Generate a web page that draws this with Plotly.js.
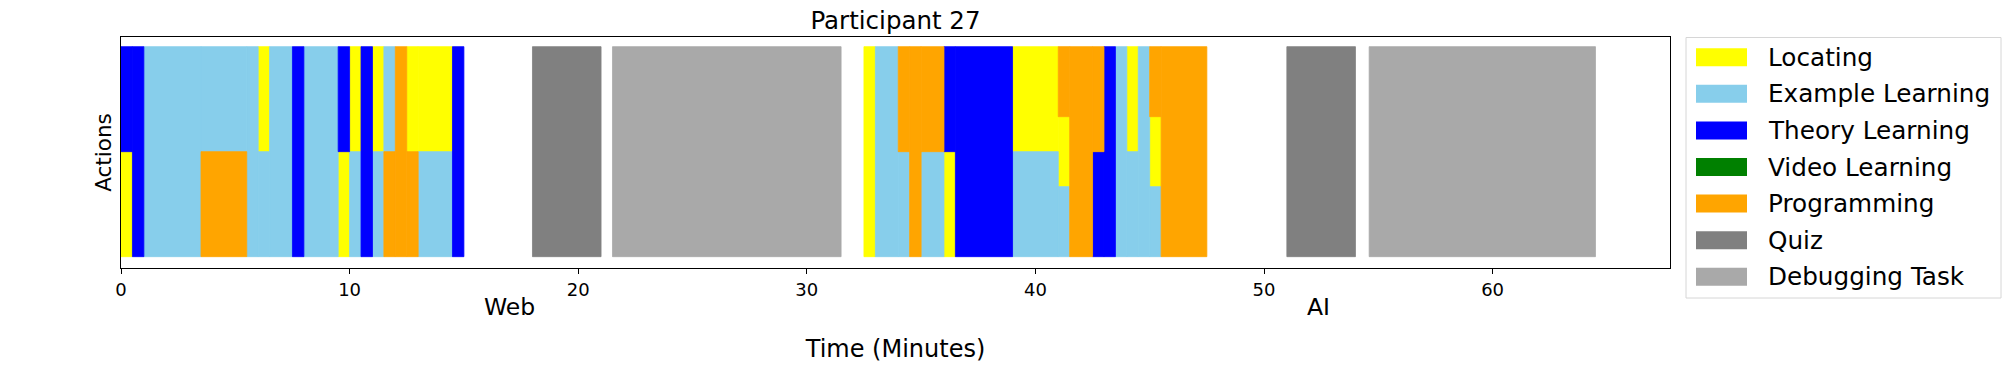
<!DOCTYPE html>
<html>
<head>
  <title>Participant 27</title>
<script src="https://cdn.jsdelivr.net/npm/plotly.js-dist@3.0.1/plotly.min.js"></script>
  <style>
    body { margin: 0; background: #fff; }
  </style>
</head>
<body>
  <div id="graph"></div>
  <script>
    // action categories and their colours (legend order)
    const actions = ['Locating', 'Example Learning', 'Theory Learning', 'Video Learning',
                     'Programming', 'Quiz', 'Debugging Task'];
    const codes = ['L', 'E', 'T', 'V', 'P', 'Q', 'D'];
    const colors = ['#ffff00', '#87ceeb', '#0000ff', '#008000', '#ffa500', '#808080', '#a9a9a9'];

    // time blocks in minutes, with the concurrent actions listed top to bottom
    const blockStart = [0, 0.5, 1.0, 3.5, 5.5, 6.0, 6.5, 7.5, 8.0, 9.5, 10.0, 10.5, 11.0, 11.5, 12.0, 12.5, 13.0, 14.5,
                        18.0, 21.5,
                        32.5, 33.0, 34.0, 34.5, 35.0, 36.0, 36.5, 39.0, 41.0, 41.5, 42.5, 43.0, 43.5, 44.0, 44.5, 45.0, 45.5,
                        51.0, 54.6];
    const blockEnd   = [0.5, 1.0, 3.5, 5.5, 6.0, 6.5, 7.5, 8.0, 9.5, 10.0, 10.5, 11.0, 11.5, 12.0, 12.5, 13.0, 14.5, 15.0,
                        21.0, 31.5,
                        33.0, 34.0, 34.5, 35.0, 36.0, 36.5, 39.0, 41.0, 41.5, 42.5, 43.0, 43.5, 44.0, 44.5, 45.0, 45.5, 47.5,
                        54.0, 64.5];
    const blockActions = ['T L', 'T', 'E', 'E P', 'E', 'L E', 'E', 'T', 'E', 'T L', 'L E', 'T', 'L E', 'E P', 'P', 'L P', 'L E', 'T',
                          'Q', 'D',
                          'L', 'E', 'P E', 'P', 'P E', 'T L', 'T', 'L E', 'P L E', 'P', 'P T', 'T', 'E', 'L E', 'E', 'P L E', 'P',
                          'Q', 'D'];

    // session labels under the axis
    const sessions = ['Web', 'AI'];
    const sessionX = [17.0, 52.4];

    // split every block into equal slices, one per concurrent action
    const traces = actions.map(function(name, i) {
      return { type: 'bar', orientation: 'h', name: name, x: [], y: [], base: [], width: [],
               marker: { color: colors[i], line: { width: 0.8, color: colors[i] } },
               showlegend: false, hoverinfo: 'name' };
    });
    for (let b = 0; b < blockStart.length; b++) {
      const parts = blockActions[b].split(' ');
      const h = 1 / parts.length;
      parts.forEach(function(c, k) {
        const t = traces[codes.indexOf(c)];
        const top = 1 - k * h;
        t.base.push(blockStart[b]);
        t.x.push(blockEnd[b] - blockStart[b]);
        t.y.push(top - h / 2);
        t.width.push(h);
      });
    }

    // page geometry (pixels)
    const W = 2011, H = 372;
    const M = { l: 121, r: 341, t: 37, b: 104 };
    const plotW = W - M.l - M.r, plotH = H - M.t - M.b;
    const px = function(v) { return (v - M.l) / plotW; };
    const py = function(v) { return (H - M.b - v) / plotH; };

    const font = 'DejaVu Sans, sans-serif';
    const shapes = [];
    const annotations = [];

    sessions.forEach(function(s, i) {
      annotations.push({ text: s, x: sessionX[i], xref: 'x', y: py(307), yref: 'paper',
                         xanchor: 'center', yanchor: 'middle', showarrow: false,
                         font: { family: font, size: 23.5, color: '#000' } });
    });

    // legend box drawn beside the plot
    shapes.push({ type: 'rect', xref: 'paper', yref: 'paper', x0: px(1686), x1: px(2001), y0: py(37.5), y1: py(298),
                  line: { color: '#d6d6d6', width: 1 }, fillcolor: '#fff', layer: 'below' });
    actions.forEach(function(name, i) {
      const cy = 57.3 + i * 36.57;
      shapes.push({ type: 'rect', xref: 'paper', yref: 'paper', x0: px(1696), x1: px(1747), y0: py(cy + 9), y1: py(cy - 9),
                    line: { width: 0 }, fillcolor: colors[i] });
      annotations.push({ text: name, x: px(1766), xref: 'paper', y: py(cy), yref: 'paper',
                         xanchor: 'left', yanchor: 'middle', showarrow: false,
                         font: { family: font, size: 24.7, color: '#000' } });
    });

    const layout = {
      width: W, height: H,
      margin: M,
      paper_bgcolor: '#fff', plot_bgcolor: '#fff',
      barmode: 'overlay',
      showlegend: false,
      font: { family: font, color: '#000' },
      title: { text: 'Participant 27', font: { family: font, size: 24.5, color: '#000' },
               x: 0.5, xref: 'paper', xanchor: 'center', y: 1 - 20 / H, yanchor: 'middle', yref: 'container' },
      xaxis: {
        range: [0, 67.76], tickvals: [0, 10, 20, 30, 40, 50, 60],
        ticks: 'outside', ticklen: 5, tickwidth: 1, tickcolor: '#000',
        tickfont: { family: font, size: 18, color: '#000' },
        showline: true, linecolor: '#000', linewidth: 1.2, mirror: true,
        showgrid: false, zeroline: false,
        title: { text: 'Time (Minutes)', font: { family: font, size: 24, color: '#000' }, standoff: 41 }
      },
      yaxis: {
        range: [-0.054, 1.046], showticklabels: false, ticks: '',
        showline: true, linecolor: '#000', linewidth: 1.2, mirror: true,
        showgrid: false, zeroline: false,
        title: { text: 'Actions', font: { family: font, size: 21.5, color: '#000' }, standoff: 2 }
      },
      shapes: shapes,
      annotations: annotations
    };

    Plotly.newPlot('graph', traces, layout, { displayModeBar: false, staticPlot: true });
  </script>
</body>
</html>
